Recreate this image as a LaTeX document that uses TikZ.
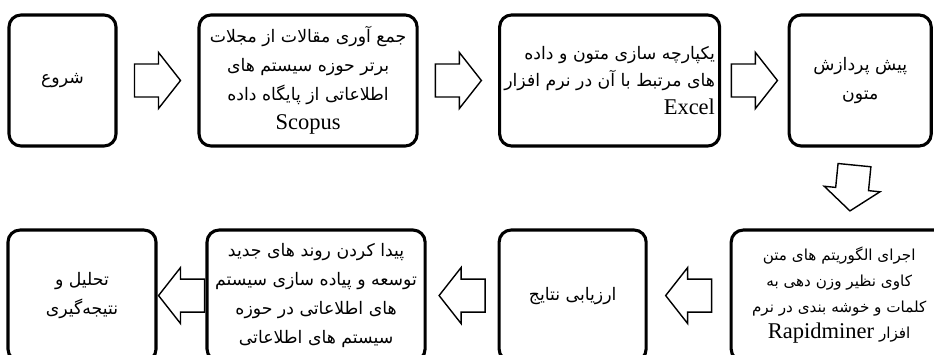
\documentclass[tikz,border=0pt]{standalone}
\usepackage{fontspec}
\TeXXeTstate=1
\newfontfamily\farsifont[Script=Arabic]{DejaVu Sans}
\newfontfamily\latinfont{Liberation Serif}
\newcommand{\farsi}[1]{{\farsifont\beginR #1\endR}}
\newcommand{\latin}[1]{\beginL{\latinfont\fontsize{16}{20}\selectfont #1}\endL{}}
\tikzstyle{stage} = [rectangle, rounded corners=0.3cm, minimum height=3.275cm, align=center, line width=2.2pt, draw=black, font=\fontsize{12.3}{20.5}\selectfont]
\tikzstyle{arrowline} = [draw=black, fill=white, line width=1pt, line join=miter]
\tikzset{pics/blockarrow/.style={code={
	\draw[arrowline] (-23,-16.5) -- (1,-16.5) -- (1,-28) -- (23,0) -- (1,28) -- (1,16.5) -- (-23,16.5) -- cycle;}}}

\begin{document}
\begin{tikzpicture}[node distance=6cm, auto, x=0.025cm, y=-0.025cm]
	\useasboundingbox (0,0) rectangle (934,355);
	
	\node (start) [stage, minimum width=2.675cm] at (62.5,80.5) {\farsi{شروع}};
	
	\node (collect) [stage, right of=start, xshift=0.1375cm, minimum width=5.45cm] {\farsi{جمع آوری مقالات از مجلات}\\ \farsi{برتر حوزه سیستم های}\\ \farsi{اطلاعاتی از پایگاه داده}\\ {\latinfont\fontsize{16}{20}\selectfont Scopus}};
	
	\node (merge) [stage, right of=collect, xshift=1.5375cm, minimum width=5.425cm, align=right, font=\fontsize{12.3}{19.5}\selectfont] {\farsi{یکپارچه سازی متون و داده}\\ \farsi{های مرتبط با آن در نرم افزار}\\ {\latinfont\fontsize{16}{20}\selectfont Excel}};
	
	\node (prep) [stage, right of=merge, xshift=0.2625cm, minimum width=3.55cm] {\farsi{پیش پردازش}\\ \farsi{متون}};
	
	\node (mine) [stage, below of=prep, xshift=-0.525cm, yshift=0.625cm, minimum width=5.4cm, font=\fontsize{10.8}{18.5}\selectfont] {\farsi{اجرای الگوریتم های متن}\\ \farsi{کاوی نظیر وزن دهی به}\\ \farsi{کلمات و خوشه بندی در نرم}\\ \farsi{افزار \latin{Rapidminer}}};
	
	\node (eval) [stage, left of=mine, xshift=-0.6625cm, minimum width=3.675cm] {\farsi{ارزیابی نتایج}};
	
	\node (trend) [stage, left of=eval, xshift=-0.4125cm, minimum width=5.45cm] {\farsi{پیدا کردن روند های جدید}\\ \farsi{توسعه و پیاده سازی سیستم}\\ \farsi{های اطلاعاتی در حوزه}\\ \farsi{سیستم های اطلاعاتی}};
	
	\node (result) [stage, left of=trend, xshift=0.15cm, minimum width=3.7cm] {\farsi{تحلیل و}\\ \farsi{نتیجه‌گیری}};
	
	%
	
	\path (start) -- (collect) pic[pos=.5, sloped, allow upside down] {blockarrow};
	\path (collect) -- (merge) pic[pos=.5, sloped, allow upside down] {blockarrow};
	\path (merge) -- (prep) pic[pos=.5, sloped, allow upside down] {blockarrow};
	\path ([xshift=-0.1cm]prep.south) -- ([xshift=-0.3cm]prep.south |- mine.north) pic[pos=.5, sloped, allow upside down] {blockarrow};
	\path (mine) -- (eval) pic[pos=.5, sloped, allow upside down] {blockarrow};
	\path (eval) -- (trend) pic[pos=.5, sloped, allow upside down] {blockarrow};
	\path (trend) -- (result) pic[pos=.5, sloped, allow upside down] {blockarrow};
	
\end{tikzpicture}
\end{document}
